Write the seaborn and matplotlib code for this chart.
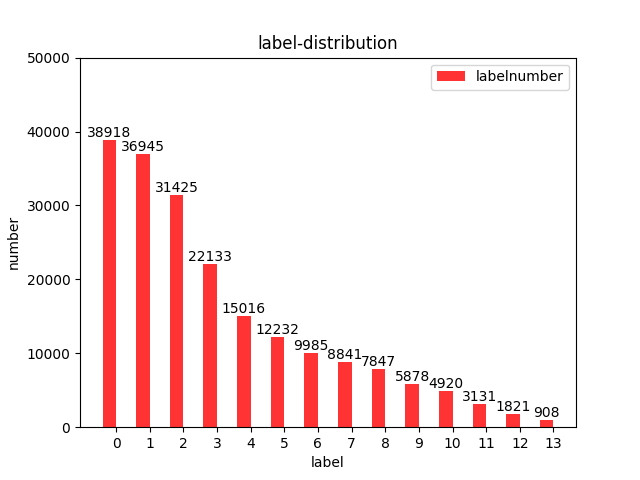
import matplotlib
matplotlib.use("Agg")
import matplotlib.pyplot as plt
import seaborn as sns
import numpy as np
import pandas as pd

labels = list(range(14))
counts = [38918, 36945, 31425, 22133, 15016, 12232, 9985, 8841, 7847, 5878, 4920, 3131, 1821, 908]

bar_width = 0.4
df = pd.DataFrame({"pos": np.array(labels) - bar_width / 2, "count": counts})

fig, ax = plt.subplots(figsize=(6.4, 4.8), dpi=100)
sns.barplot(data=df, x="pos", y="count", native_scale=True, width=bar_width,
            color="red", alpha=0.8, saturation=1, label="labelnumber", ax=ax, errorbar=None)

for p, c in zip(df["pos"], counts):
    ax.text(p, c, str(c), ha="center", va="bottom", fontsize=10)

ax.set_xticks(labels)
ax.set_xticklabels([str(l) for l in labels])
ax.set_xlim(-1.07, 13.67)
ax.set_ylim(0, 50000)
ax.set_title("label-distribution")
ax.set_xlabel("label")
ax.set_ylabel("number")
ax.legend(loc="upper right")
fig.savefig("out.png", dpi=100)
